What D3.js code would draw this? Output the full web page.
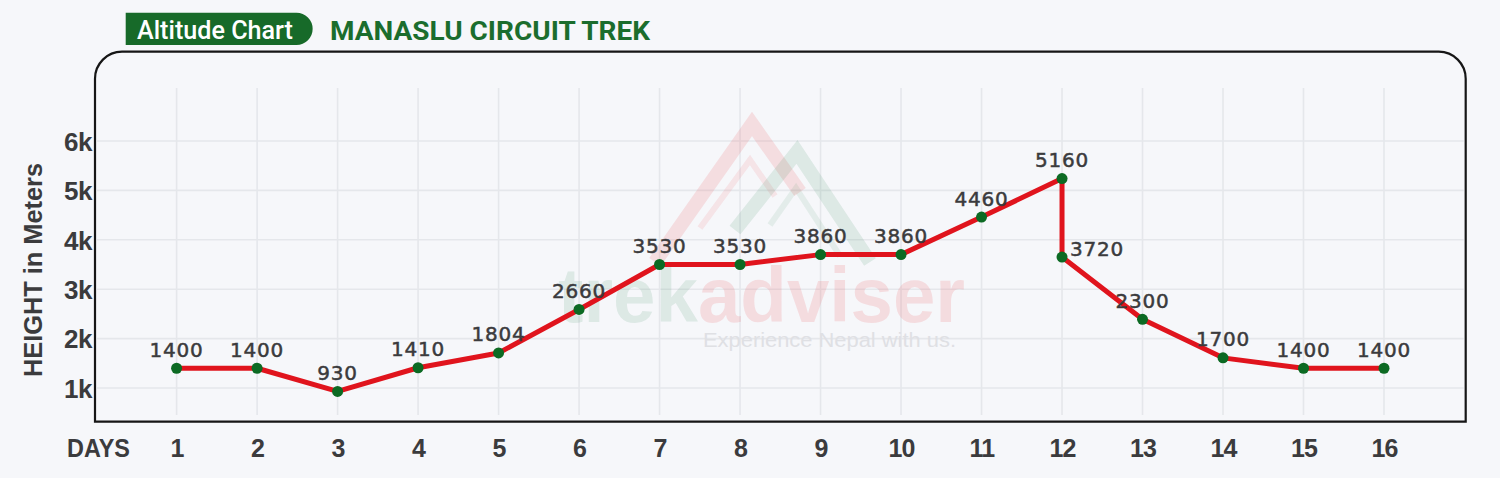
<!DOCTYPE html>
<html>
<head>
<meta charset="utf-8">
<script src="https://cdn.jsdelivr.net/npm/d3@7"></script>
<style>
  html, body { margin: 0; padding: 0; background: #f6f7fa; }
  svg { display: block; }
</style>
</head>
<body>
<svg id="chart" width="1500" height="478"></svg>
<script>
// ---------- data ----------
const dayTicks = [1,2,3,4,5,6,7,8,9,10,11,12,13,14,15,16];
const pointDays = [1,2,3,4,5,6,7,8,9,10,11,12,12,13,14,15,16];
const altitude = [1400,1400,930,1410,1710,2590,3500,3500,3700,3700,4460,5240,3650,2390,1610,1400,1400];
const altitudeLabels = ["1400","1400","930","1410","1804","2660","3530","3530","3860","3860","4460","5160","3720","2300","1700","1400","1400"];
const yTicks = [1000,2000,3000,4000,5000,6000];
const titleBadge = "Altitude Chart";
const titleText = "MANASLU CIRCUIT TREK";
const yTitle = "HEIGHT in Meters";
const xTitle = "DAYS";

// ---------- layout ----------
const W = 1500, H = 478;
const frame = { left: 95, top: 51.7, right: 1465.7, bottom: 421.7, r: 27 };
const svg = d3.select("#chart");

const x = d3.scaleLinear().domain([1, 16]).range([176.6, 1384]);
const y = d3.scaleLinear().domain([1000, 6000]).range([388, 141]);

const textColor = "#3b3b3d";
const gridColor = "#e5e7eb";

svg.append("rect").attr("width", W).attr("height", H).attr("fill", "#f6f7fa");

// ---------- title ----------
const badge = svg.append("g");
badge.append("path")
  .attr("d", `M125.7,12.7 H296.5 A16.15,16.15 0 0 1 296.5,45 H125.7 Z`)
  .attr("fill", "#176a29");
badge.append("text")
  .attr("x", 137).attr("y", 39)
  .attr("font-family", "Roboto, 'Liberation Sans', sans-serif")
  .attr("font-weight", 500).attr("font-size", 25)
  .attr("fill", "#ffffff")
  .attr("textLength", 156).attr("lengthAdjust", "spacingAndGlyphs")
  .text(titleBadge);
svg.append("text")
  .attr("x", 330).attr("y", 40)
  .attr("font-family", "Roboto, 'Liberation Sans', sans-serif")
  .attr("font-weight", 700).attr("font-size", 26)
  .attr("fill", "#1b6d2d")
  .attr("textLength", 320).attr("lengthAdjust", "spacingAndGlyphs")
  .text(titleText);

// ---------- grid ----------
const grid = svg.append("g");
grid.selectAll("line.v").data(dayTicks).join("line")
  .attr("class", "v")
  .attr("x1", d => x(d)).attr("x2", d => x(d))
  .attr("y1", 88).attr("y2", 415)
  .attr("stroke", gridColor).attr("stroke-width", 1.6);
grid.selectAll("line.h").data(yTicks).join("line")
  .attr("class", "h")
  .attr("x1", frame.left + 2).attr("x2", frame.right - 2)
  .attr("y1", d => y(d)).attr("y2", d => y(d))
  .attr("stroke", gridColor).attr("stroke-width", 1.6);

// ---------- watermark ----------
const wm = svg.append("g");
wm.append("path")
  .attr("d", "M655,262 L752,124 L800,192")
  .attr("fill", "none").attr("stroke", "rgba(235,90,95,0.16)")
  .attr("stroke-width", 14).attr("stroke-linejoin", "miter");
wm.append("path")
  .attr("d", "M700,228 L750,160 L775,196")
  .attr("fill", "none").attr("stroke", "rgba(235,90,95,0.12)")
  .attr("stroke-width", 6);
wm.append("path")
  .attr("d", "M735,230 L797,152 L870,262")
  .attr("fill", "none").attr("stroke", "rgba(40,130,80,0.12)")
  .attr("stroke-width", 14).attr("stroke-linejoin", "miter");
wm.append("path")
  .attr("d", "M770,225 L796,188 L840,256")
  .attr("fill", "none").attr("stroke", "rgba(40,130,80,0.09)")
  .attr("stroke-width", 6);
const wmText = wm.append("text")
  .attr("x", 558).attr("y", 322)
  .attr("font-family", "'Liberation Sans', Arial, sans-serif")
  .attr("font-weight", 700).attr("font-size", 77)
  .attr("textLength", 407).attr("lengthAdjust", "spacingAndGlyphs");
wmText.append("tspan").attr("fill", "rgba(40,130,80,0.12)").text("trek");
wmText.append("tspan").attr("fill", "rgba(235,80,90,0.16)").text("adviser");
wm.append("text")
  .attr("x", 703).attr("y", 347)
  .attr("font-family", "'Liberation Sans', Arial, sans-serif")
  .attr("font-size", 21)
  .attr("fill", "#dfe0e4")
  .attr("textLength", 253).attr("lengthAdjust", "spacingAndGlyphs")
  .text("Experience Nepal with us.");

// ---------- frame ----------
const f = frame;
svg.append("path")
  .attr("d", `M${f.left},${f.bottom} V${f.top + f.r} A${f.r},${f.r} 0 0 1 ${f.left + f.r},${f.top}
              H${f.right - f.r} A${f.r},${f.r} 0 0 1 ${f.right},${f.top + f.r} V${f.bottom} Z`)
  .attr("fill", "none").attr("stroke", "#161616").attr("stroke-width", 2.2);

// ---------- axes ----------
const yAxis = svg.append("g")
  .attr("transform", `translate(${frame.left - 3},0)`)
  .call(d3.axisLeft(y).tickValues(yTicks).tickSize(0).tickPadding(0)
    .tickFormat(d => (d / 1000) + "k"));
yAxis.select(".domain").remove();
yAxis.selectAll("text")
  .attr("font-family", "'Liberation Sans', Arial, sans-serif")
  .attr("font-weight", 700).attr("font-size", 26)
  .attr("letter-spacing", -0.5)
  .attr("fill", textColor)
  .attr("x", 0).attr("dy", "0.36em");

const xAxis = svg.append("g")
  .attr("transform", `translate(0,457)`)
  .call(d3.axisBottom(x).tickValues(dayTicks).tickSize(0).tickPadding(0)
    .tickFormat(d3.format("d")));
xAxis.select(".domain").remove();
xAxis.selectAll("text")
  .attr("font-family", "'Liberation Sans', Arial, sans-serif")
  .attr("font-weight", 700).attr("font-size", 25)
  .attr("letter-spacing", -0.8)
  .attr("fill", textColor)
  .attr("y", 0).attr("dy", 0);

svg.append("text")
  .attr("x", 67).attr("y", 457)
  .attr("font-family", "'Liberation Sans', Arial, sans-serif")
  .attr("font-weight", 700).attr("font-size", 25)
  .attr("fill", textColor)
  .attr("textLength", 63).attr("lengthAdjust", "spacingAndGlyphs")
  .text(xTitle);

svg.append("text")
  .attr("transform", "translate(42,270) rotate(-90)")
  .attr("text-anchor", "middle")
  .attr("font-family", "'Liberation Sans', Arial, sans-serif")
  .attr("font-weight", 700).attr("font-size", 25)
  .attr("fill", textColor)
  .attr("textLength", 214).attr("lengthAdjust", "spacingAndGlyphs")
  .text(yTitle);

// ---------- series ----------
const pts = pointDays.map((d, i) => ({ day: d, alt: altitude[i], label: altitudeLabels[i], i }));

svg.append("path")
  .datum(pts)
  .attr("fill", "none")
  .attr("stroke", "#e0141d")
  .attr("stroke-width", 5)
  .attr("stroke-linejoin", "round")
  .attr("d", d3.line().x(d => x(d.day)).y(d => y(d.alt)));

svg.selectAll("circle.pt").data(pts).join("circle")
  .attr("class", "pt")
  .attr("cx", d => x(d.day)).attr("cy", d => y(d.alt))
  .attr("r", 5.5)
  .attr("fill", "#0c6a23");

svg.selectAll("text.lbl").data(pts).join("text")
  .attr("class", "lbl")
  .attr("font-family", "'DejaVu Sans', sans-serif")
  .attr("font-size", 20)
  .attr("letter-spacing", 0.8)
  .attr("fill", textColor)
  .attr("stroke", textColor)
  .attr("stroke-width", 0.5)
  .each(function(d) {
    const sel = d3.select(this);
    const sameDayAsPrev = d.i > 0 && pointDays[d.i - 1] === d.day;
    if (sameDayAsPrev) {
      sel.attr("x", x(d.day) + 8).attr("y", y(d.alt) - 1).attr("text-anchor", "start");
    } else {
      sel.attr("x", x(d.day)).attr("y", y(d.alt) - 11.5).attr("text-anchor", "middle");
    }
  })
  .text(d => d.label);
</script>
</body>
</html>
